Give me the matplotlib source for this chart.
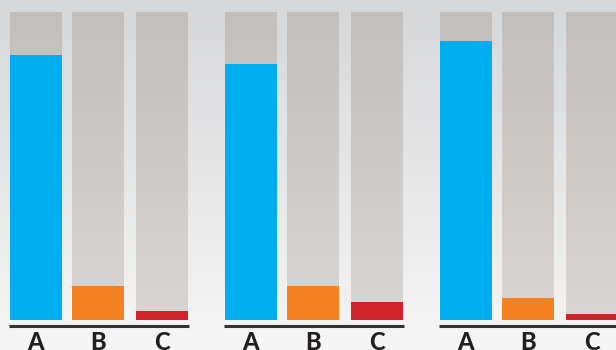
import numpy as np
import matplotlib.pyplot as plt
from matplotlib.colors import LinearSegmentedColormap

# values (percent of full bar)
groups = ['1', '2', '3']
labels = ['A', 'B', 'C']
values_a = [86, 83, 90.5]
values_b = [11, 11, 7]
values_c = [3, 6, 2]
colors = ['#00aeef', '#f58220', '#d2232a']

fig = plt.figure(figsize=(6.16, 3.5), dpi=100)
ax = fig.add_axes([0, 0, 1, 1])

# pixel-like layout: 0 at bar bottom, 100 at bar top
ax.set_xlim(-36, 580)
ax.set_ylim(-9.74, 103.9)
ax.axis('off')

bg = LinearSegmentedColormap.from_list('bg', ['#f6f6f6', '#d6d7d9'])
ax.imshow(np.linspace(0, 1, 200).reshape(-1, 1), cmap=bg, origin='lower',
          extent=[-36, 580, -9.74, 103.9], aspect='auto', zorder=0)

track = LinearSegmentedColormap.from_list('track', ['#d8d5d3', '#c3bfbd'])
offsets = [0, 62, 126]
width = 52
series = [values_a, values_b, values_c]

for g in range(len(groups)):
    base = g * 215
    for i, lab in enumerate(labels):
        x = base + offsets[i]
        ax.imshow(np.linspace(0, 1, 100).reshape(-1, 1), cmap=track, origin='lower',
                  extent=[x - width / 2, x + width / 2, 0, 100], aspect='auto', zorder=1)
        ax.bar(x, series[i][g], width, bottom=0, color=colors[i], zorder=2, linewidth=0)
        ax.text(x, -7.4, lab, ha='center', va='center', fontsize=17,
                family=['Lato', 'DejaVu Sans'], fontweight='black',
                color='#231f20', zorder=3)
    ax.plot([base - 27, base + offsets[2] + 27], [-1.95, -1.95], color='#333333',
            linewidth=2.2, solid_capstyle='butt', zorder=3)

ax.set_xlim(-36, 580)
ax.set_ylim(-9.74, 103.9)

fig.savefig('out.png', dpi=100)
